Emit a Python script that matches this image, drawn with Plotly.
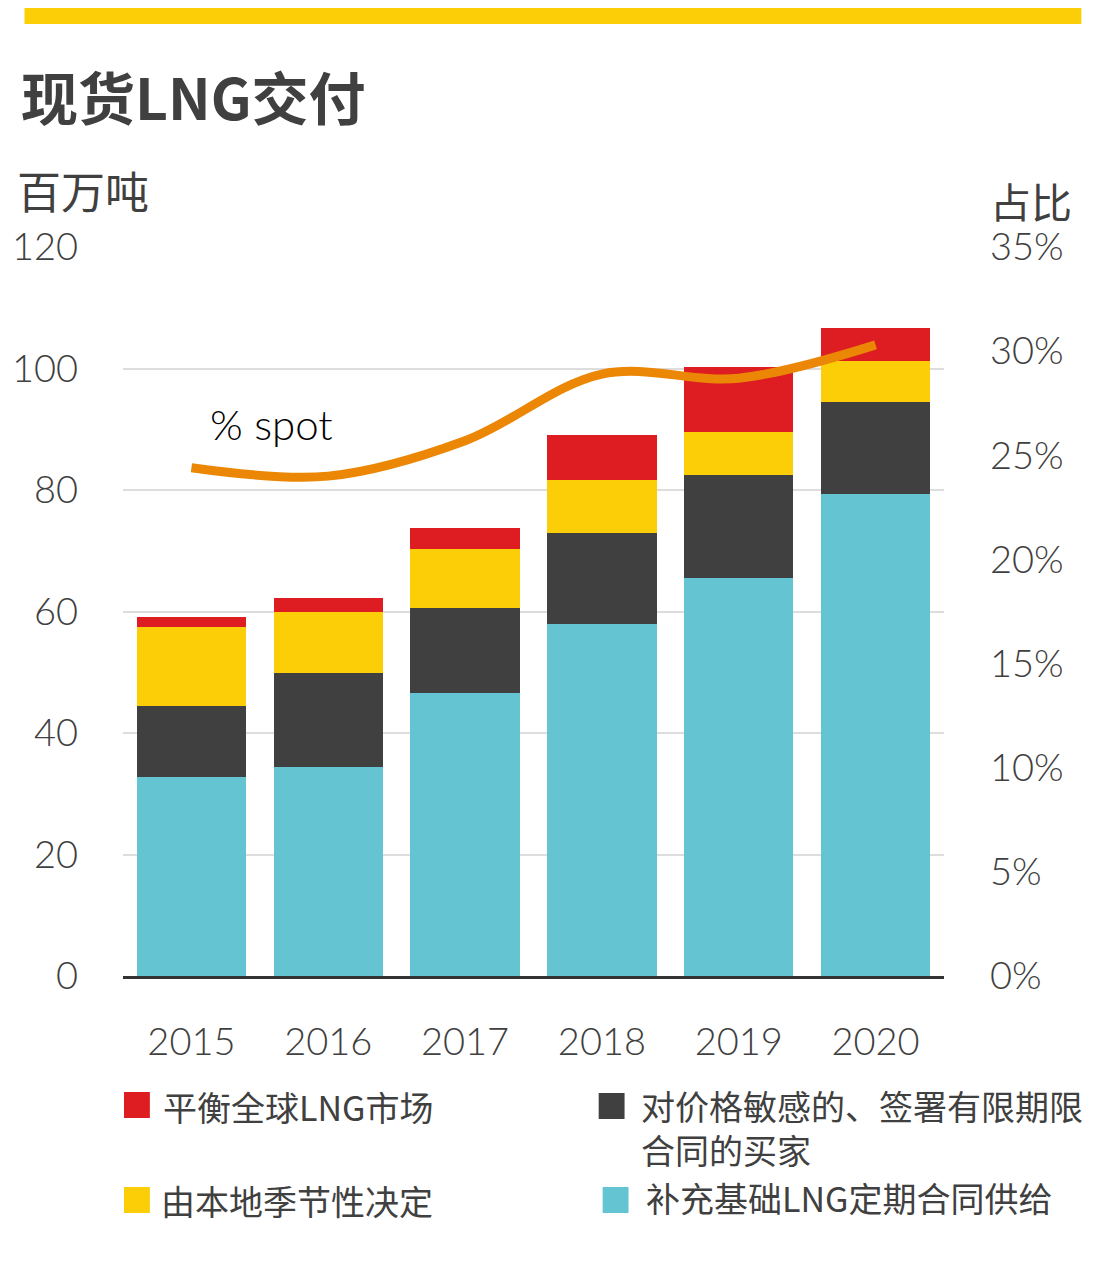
import plotly.graph_objects as go

years = ["2015", "2016", "2017", "2018", "2019", "2020"]
base_contract = [32.8, 34.4, 46.6, 57.9, 65.5, 79.3]      # 补充基础LNG定期合同供给
price_sensitive = [11.6, 15.5, 14.0, 15.0, 17.0, 15.2]    # 对价格敏感的、签署有限期限合同的买家
seasonal = [13.0, 10.0, 9.7, 8.7, 7.0, 6.7]               # 由本地季节性决定
balancing = [1.7, 2.3, 3.4, 7.5, 10.7, 5.5]               # 平衡全球LNG市场
spot_share = [24.4, 24.0, 25.7, 28.9, 28.7, 30.3]         # % spot

names = {
    "balancing": "平衡全球LNG市场",
    "price": "对价格敏感的、签署有限期限<br>合同的买家",
    "seasonal": "由本地季节性决定",
    "base": "补充基础LNG定期合同供给",
}

C_TEAL = "#65C4D2"
C_DARK = "#404040"
C_YEL = "#FBCE07"
C_RED = "#DD1D21"
C_ORANGE = "#EB8705"
TXT = "#404040"
FONT = "Lato, 'Noto Sans CJK SC', sans-serif"
CJK = "'Noto Sans CJK SC', sans-serif"

W, H = 1094, 1277
L, R, T, B = 119, 944, 247, 976

def px(x):
    return (x - L) / (R - L)

def py(y):
    return (B - y) / (B - T)

fig = go.Figure()
for vals, col, key in [(base_contract, C_TEAL, "base"), (price_sensitive, C_DARK, "price"),
                       (seasonal, C_YEL, "seasonal"), (balancing, C_RED, "balancing")]:
    fig.add_trace(go.Bar(x=years, y=vals, marker=dict(color=col, line=dict(width=0)),
                         name=names[key], showlegend=False, hoverinfo="skip"))

fig.add_trace(go.Scatter(x=years, y=spot_share, yaxis="y2", mode="lines",
                         line=dict(color=C_ORANGE, width=9, shape="spline", smoothing=1.0),
                         showlegend=False, hoverinfo="skip"))

shapes = [
    dict(type="rect", xref="paper", yref="paper", x0=px(20), x1=px(1082), y0=py(8), y1=py(24),
         fillcolor=C_YEL, line=dict(width=0), layer="above"),
]
annotations = [
    dict(text="<b>现货LNG交付</b>", x=px(14), y=py(95), xref="paper", yref="paper",
         xanchor="left", yanchor="middle", showarrow=False, font=dict(family=CJK, size=57, color=TXT)),
    dict(text="百万吨", x=px(10), y=py(190), xref="paper", yref="paper",
         xanchor="left", yanchor="middle", showarrow=False, font=dict(family=CJK, size=44, color=TXT)),
    dict(text="占比", x=px(1074), y=py(200), xref="paper", yref="paper",
         xanchor="right", yanchor="middle", showarrow=False, borderpad=0,
         font=dict(family=CJK, size=41, color=TXT)),
    dict(text="% spot", x=px(204), y=py(424), xref="paper", yref="paper",
         xanchor="left", yanchor="middle", showarrow=False,
         font=dict(family=FONT, size=42, color="#000000", weight=300)),
]

legend_items = [
    (C_RED, names["balancing"], 120, 1105, 157, 1106),
    (C_DARK, names["price"], 597, 1106, 638, 1127),
    (C_YEL, names["seasonal"], 120, 1200, 155, 1200),
    (C_TEAL, names["base"], 601, 1200, 643, 1197),
]
for col, txt, sx, sy, tx, ty in legend_items:
    shapes.append(dict(type="rect", xref="paper", yref="paper", x0=px(sx), x1=px(sx + 26),
                       y0=py(sy - 13), y1=py(sy + 13), fillcolor=col, line=dict(width=0)))
    annotations.append(dict(text=txt, x=px(tx), y=py(ty), xref="paper", yref="paper",
                            xanchor="left", yanchor="middle", align="left", showarrow=False,
                            font=dict(family=CJK, size=34, color=TXT)))

tick_font = dict(family=FONT, size=38, color=TXT, weight=300)

fig.update_layout(
    width=W, height=H,
    margin=dict(l=L, r=W - R, t=T, b=H - B, pad=0),
    paper_bgcolor="white", plot_bgcolor="white",
    barmode="stack", bargap=0.2,
    shapes=shapes, annotations=annotations,
    xaxis=dict(showgrid=False, showline=True, linecolor="#333333", linewidth=3,
               tickfont=tick_font, ticks="", ticklabelstandoff=30, fixedrange=True),
    yaxis=dict(range=[0, 120], dtick=20, showgrid=True, gridcolor="#DDDDDD", gridwidth=2,
               zeroline=False, showline=False, ticks="",
               tickfont=tick_font, ticklabelstandoff=44),
    yaxis2=dict(range=[0, 35], dtick=5, ticksuffix="%", overlaying="y", side="right",
                showgrid=False, zeroline=False, showline=False, ticks="",
                tickfont=tick_font, ticklabelstandoff=45),
)

fig.write_html("out.html")
